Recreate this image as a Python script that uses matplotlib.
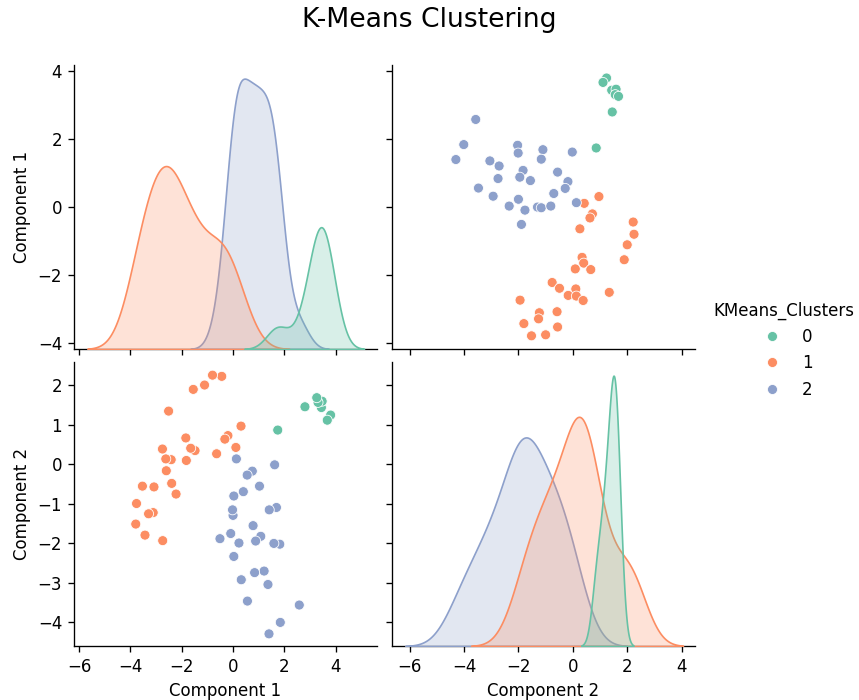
import numpy as np
import pandas as pd
import matplotlib
matplotlib.use("Agg")
import matplotlib.pyplot as plt
import seaborn as sns

# Component values, one list per cluster
comp1_c0 = [3.80, 3.67, 3.44, 3.47, 3.31, 3.26, 2.80, 1.74]
comp2_c0 = [1.24, 1.11, 1.43, 1.59, 1.56, 1.68, 1.45, 0.86]

comp1_c1 = [0.31, 0.11, -0.20, -0.32, -0.64, -0.44, -0.80, -1.11, -1.55, -1.48,
            -1.65, -1.82, -1.84, -2.22, -2.39, -2.41, -2.60, -2.62, -2.75, -2.51,
            -2.74, -3.11, -3.08, -3.29, -3.43, -3.53, -3.79, -3.76]
comp2_c1 = [0.96, 0.42, 0.72, 0.63, 0.26, 2.22, 2.25, 2.00, 1.89, 0.34,
            0.40, 0.09, 0.66, -0.76, -0.49, 0.11, -0.17, 0.13, 0.38, 1.34,
            -1.94, -1.23, -0.58, -1.26, -1.80, -0.56, -1.52, -1.00]

comp1_c2 = [2.58, 1.84, 1.40, 1.82, 1.59, 1.69, 1.41, 1.62, 1.36, 1.21,
            1.08, 0.88, 0.84, 0.78, 1.03, 0.75, 0.55, 0.56, 0.32, 0.40,
            0.23, 0.03, -0.09, 0.00, -0.02, 0.03, 0.13, -0.51]
comp2_c2 = [-3.57, -4.01, -4.30, -2.03, -2.01, -1.10, -1.16, -0.02, -3.05, -2.71,
            -1.83, -1.95, -2.75, -1.56, -0.56, -0.18, -0.28, -3.47, -2.93, -0.70,
            -2.00, -2.34, -1.76, -1.30, -1.16, -0.81, 0.13, -1.89]

df = pd.DataFrame({
    "Component 1": comp1_c0 + comp1_c1 + comp1_c2,
    "Component 2": comp2_c0 + comp2_c1 + comp2_c2,
    "KMeans_Clusters": [0] * len(comp1_c0) + [1] * len(comp1_c1) + [2] * len(comp1_c2),
})

g = sns.pairplot(df, hue="KMeans_Clusters", palette="Set2")
fig = g.figure
fig.set_size_inches(859 / 120, 700 / 120)
fig.subplots_adjust(left=0.086, right=0.809, bottom=0.077, top=0.907,
                    wspace=0.05, hspace=0.046)

# axis limits as in the reference
g.axes[0, 0].set_xlim(-6.2, 5.6)
g.axes[0, 1].set_xlim(-6.65, 4.49)
g.axes[0, 1].set_ylim(-4.18, 4.18)
g.axes[1, 0].set_ylim(-4.61, 2.58)

sns.move_legend(g, "center right", bbox_to_anchor=(1.012, 0.5), frameon=False)
fig.suptitle("K-Means Clustering", fontsize=16, y=0.99)

fig.savefig("out.png", dpi=120)
